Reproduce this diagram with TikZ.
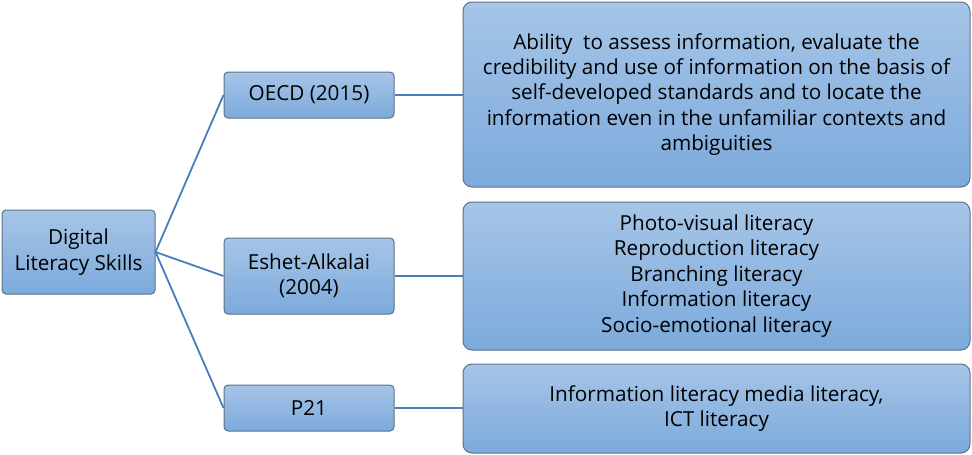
\documentclass[tikz,border=0pt]{standalone}
\usepackage{fontspec}
\setmainfont{Open Sans}
\definecolor{boxtop}{HTML}{A6C5E7}
\definecolor{boxbot}{HTML}{7CAADC}
\definecolor{boxline}{HTML}{5E7186}
\definecolor{linkblue}{HTML}{4A7EBB}
\tikzset{
	skillbox/.style={draw=boxline, line width=1pt, top color=boxtop, bottom color=boxbot,
		align=center, inner sep=0pt, font=\fontsize{20.7}{25.4}\selectfont},
	small/.style={skillbox, rounded corners=4pt},
	big/.style={skillbox, rounded corners=9pt, minimum width=507pt},
	link/.style={draw=linkblue, line width=1.8pt}
}
\begin{document}
\begin{tikzpicture}[x=1pt,y=-1pt]
	\useasboundingbox (0,0) rectangle (972,455);
	\node [small, minimum width=153pt, minimum height=84pt] (skills) at (78.5,252) {Digital\\Literacy Skills};
	\node [small, minimum width=170pt, minimum height=46pt] (oecd) at (309,95) {OECD (2015)};
	\node [small, minimum width=170pt, minimum height=76pt] (eshet) at (309,276) {Eshet-Alkalai\\(2004)};
	\node [small, minimum width=170pt, minimum height=46pt] (ptwo) at (309,408) {P21};
	\node [big, minimum height=185pt] (ability) at (716.5,94.5) {Ability\ \ to assess information, evaluate the\\credibility and use of information on the basis of\\self-developed standards and to locate the\\information even in the unfamiliar contexts and\\ambiguities};
	\node [big, minimum height=148pt] (kinds) at (716.5,276) {Photo-visual literacy\\Reproduction literacy\\Branching literacy\\Information literacy\\Socio-emotional literacy};
	\node [big, minimum height=89pt] (ict) at (716.5,408.5) {Information literacy media literacy,\\ICT literacy};
	\draw [link] (skills.east) -- (oecd.west);
	\draw [link] (skills.east) -- (eshet.west);
	\draw [link] (skills.east) -- (ptwo.west);
	\draw [link] (oecd.east) -- (ability.west |- oecd.east);
	\draw [link] (eshet.east) -- (kinds.west |- eshet.east);
	\draw [link] (ptwo.east) -- (ict.west |- ptwo.east);
\end{tikzpicture}
\end{document}
